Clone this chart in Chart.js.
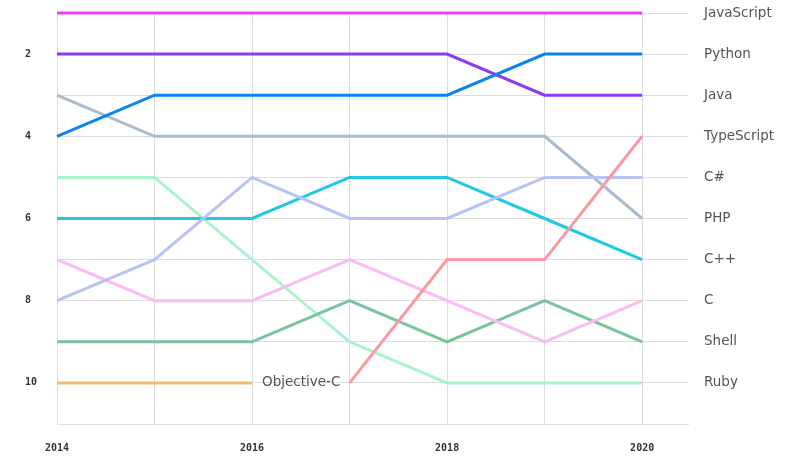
<!DOCTYPE html>
<html>
<head>
<meta charset="utf-8">
<script src="https://cdn.jsdelivr.net/npm/chart.js@4/dist/chart.umd.min.js"></script>
<style>
  html, body { margin: 0; padding: 0; background: #fff; }
  #wrap { width: 788px; height: 473px; }
</style>
</head>
<body>
<div id="wrap"><canvas id="c" width="788" height="473"></canvas></div>
<script>
const years = [2014, 2015, 2016, 2017, 2018, 2019, 2020];
const rankNames2020 = ["JavaScript", "Python", "Java", "TypeScript", "C#", "PHP", "C++", "C", "Shell", "Ruby"];

const javascriptRank = [1, 1, 1, 1, 1, 1, 1];
const pythonRank     = [4, 3, 3, 3, 3, 2, 2];
const javaRank       = [2, 2, 2, 2, 2, 3, 3];
const typescriptRank = [null, null, null, 10, 7, 7, 4];
const csharpRank     = [8, 7, 5, 6, 6, 5, 5];
const phpRank        = [3, 4, 4, 4, 4, 4, 6];
const cppRank        = [6, 6, 6, 5, 5, 6, 7];
const cRank          = [7, 8, 8, 7, 8, 9, 8];
const shellRank      = [9, 9, 9, 8, 9, 8, 9];
const rubyRank       = [5, 5, 7, 9, 10, 10, 10];
const objcRank       = [10, 10, 10, null, null, null, null];

const seriesList = [
  { name: "JavaScript", values: javascriptRank, color: "#ef3ff0" },
  { name: "Python", values: pythonRank, color: "#0a84ec" },
  { name: "Java", values: javaRank, color: "#8b3bf0" },
  { name: "TypeScript", values: typescriptRank, color: "#fc98a0" },
  { name: "C#", values: csharpRank, color: "#b7c3f5" },
  { name: "PHP", values: phpRank, color: "#a9bccf" },
  { name: "C++", values: cppRank, color: "#22c8e2" },
  { name: "C", values: cRank, color: "#fbbcf5" },
  { name: "Shell", values: shellRank, color: "#78c49c" },
  { name: "Ruby", values: rubyRank, color: "#a8f5cc" },
  { name: "Objective-C", values: objcRank, color: "#f6bb6a" }
];

const datasets = seriesList.map(s => ({
  label: s.name,
  data: years.map((y, i) => ({ x: y, y: s.values[i] })),
  borderColor: s.color,
  backgroundColor: s.color,
  borderWidth: 3,
  pointRadius: 0,
  pointHoverRadius: 0,
  tension: 0,
  spanGaps: false,
  fill: false,
  clip: false
}));

const monoFont = { family: "'DejaVu Sans Mono', monospace", size: 10, weight: 'bold' };

const objcLabel = {
  id: 'objcLabel',
  afterDatasetsDraw(chart) {
    const xs = chart.scales.x, ys = chart.scales.y;
    const lastIdx = objcRank.reduce((a, v, i) => v !== null ? i : a, -1);
    const ctx = chart.ctx;
    ctx.save();
    ctx.font = "13.5px 'DejaVu Sans', sans-serif";
    ctx.fillStyle = "#555";
    ctx.textAlign = "left";
    ctx.textBaseline = "middle";
    ctx.fillText("Objective-C", xs.getPixelForValue(years[lastIdx]) + 10, ys.getPixelForValue(objcRank[lastIdx]));
    ctx.restore();
  }
};

new Chart(document.getElementById('c'), {
  type: 'line',
  data: { datasets },
  plugins: [objcLabel],
  options: {
    responsive: false,
    animation: false,
    events: [],
    layout: { padding: { top: 13, left: 25, right: 0, bottom: 0 } },
    plugins: { legend: { display: false }, tooltip: { enabled: false } },
    scales: {
      x: {
        type: 'linear',
        min: 2014,
        max: 2020.47,
        ticks: {
          stepSize: 1,
          includeBounds: false,
          autoSkip: false,
          maxRotation: 0,
          padding: 18,
          color: '#333',
          font: monoFont,
          callback: v => (v % 2 === 0 ? String(v) : '')
        },
        grid: { color: '#dddddd', drawTicks: false, lineWidth: 1 },
        border: { display: true, color: '#dddddd' },
        afterFit: s => { s.height = 49; }
      },
      y: {
        type: 'linear',
        position: 'left',
        reverse: true,
        min: 1,
        max: 11,
        ticks: {
          stepSize: 1,
          autoSkip: false,
          crossAlign: 'far',
          padding: 0,
          color: '#333',
          font: monoFont,
          callback: v => (v % 2 === 0 ? String(v) : '')
        },
        grid: { color: '#dddddd', drawTicks: false },
        border: { display: false },
        afterFit: s => { s.width = 32; }
      },
      yRight: {
        type: 'linear',
        position: 'right',
        reverse: true,
        min: 1,
        max: 11,
        ticks: {
          stepSize: 1,
          autoSkip: false,
          crossAlign: 'near',
          padding: 0,
          color: '#555',
          font: { family: "'DejaVu Sans', sans-serif", size: 13.5 },
          callback: v => rankNames2020[v - 1] || ''
        },
        grid: { display: false, drawTicks: true, tickLength: 16 },
        border: { display: false },
        afterFit: s => { s.width = 100; }
      }
    }
  }
});
</script>
</body>
</html>
